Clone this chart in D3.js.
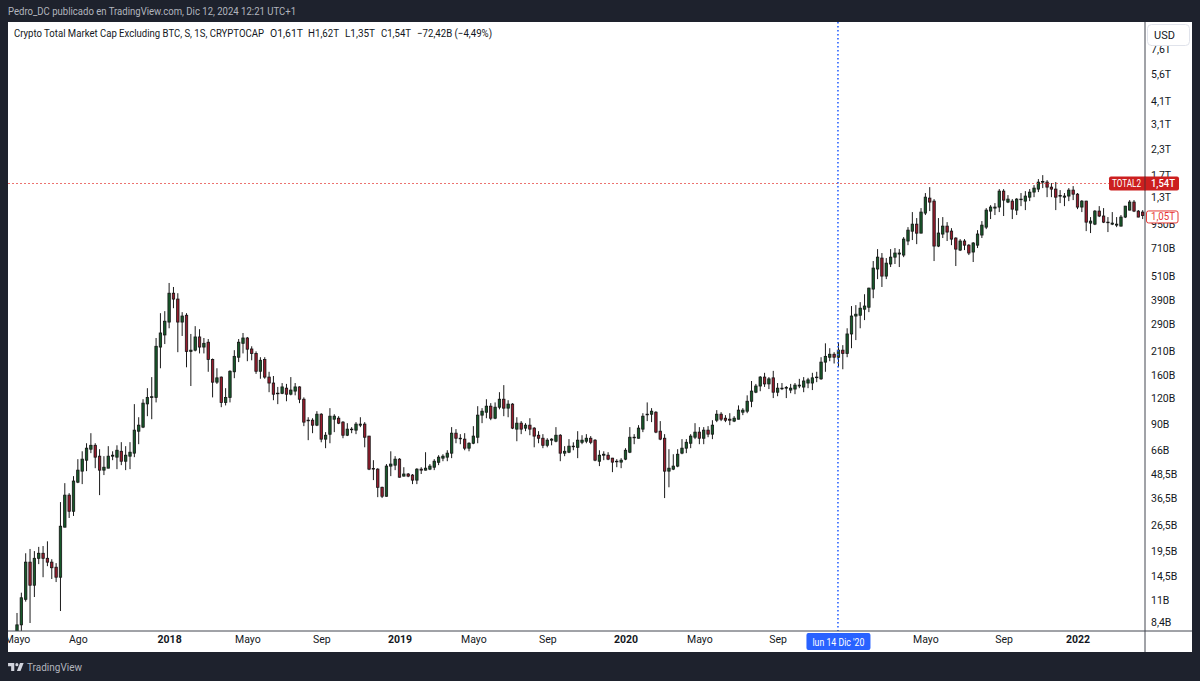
<!DOCTYPE html>
<html lang="es">
<head>
<meta charset="utf-8">
<title>Crypto Total Market Cap Excluding BTC</title>
<script src="https://cdn.jsdelivr.net/npm/d3@7"></script>
<style>
  html, body { margin: 0; padding: 0; background: #1e222d; }
  svg { display: block; }
  text { font-family: Roboto, "Noto Sans", sans-serif; }
</style>
</head>
<body>
<svg id="chart" width="1200" height="681"></svg>
<script>
// Weekly candles of TOTAL2, in billions of USD, one entry per week from the first date.
const firstWeek = "2017-05-01";

const opens = [
  7.46,8.12,11.0,17.1,13.0,17.9,19.0,17.9,17.1,16.1,
  14.3,25.9,37.9,31.3,44.2,50.4,57.4,65.4,68.5,60.2,
  51.0,52.2,60.2,59.5,63.8,56.7,60.2,62.4,81.0,85.0,
  112,121,121,220,254,296,417,389,296,321,
  209,212,248,220,233,190,145,154,114,121,
  164,195,230,245,215,204,165,190,154,143.5,
  127,127,135,125.7,130.4,137,118.4,91.7,92.3,87,
  99.1,73.7,78.1,93.4,94.5,90.2,77.2,82.5,82,87,
  88.1,76.4,52,51.6,41.6,37.4,53.5,54.1,58.1,47.5,
  48.7,48.1,45.3,51.6,51,51.6,52.8,56,58.8,59.5,
  62.4,79.1,74.5,73.7,66.2,70.2,75.4,98,101.5,109,
  94.5,107.7,118.4,106.5,111.7,83,89.1,84,87,84,
  77.2,74.5,68.5,72.8,71.9,77.2,62.4,63.1,67.4,66.9,
  71,71.9,74.5,72.8,56.7,60.9,60.9,58.8,56.7,56.1,
  58.1,63.1,75,74.5,83,98.6,99.1,101.5,81,74.5,
  50.4,51.6,53.5,62.4,66.2,70.2,75.4,80.1,74.5,82,
  78.2,92.3,99.1,94.5,93.4,91.3,93.4,101.5,102.7,115.6,
  128.7,138.5,154,142,152.6,128.7,134.5,135,132,133.6,
  138.5,136.8,143.5,143.5,153,150.8,184,195,202,195,
  212,204,257,318,321,345,353,438,556,633,
  511,590,640,664,656,775,871,947,851,1080,
  1290,1245,730,842,925,872,803,696,775,738,
  680,738,832,914,1106,1146,1160,1402,1231,1245,
  1119,1268,1245,1305,1386,1436,1561,1561,1470,1436,
  1322,1305,1322,1419,1352,1160,1245,959,947,1106,
  1043,970,947,936,925,1030,1119,1231,1106,1093
];

const highs = [
  9.35,11.9,19.0,20.0,19.5,20.5,20.7,21.9,17.7,16.9,
  34.9,43.7,38.8,47.5,58.1,63.8,70.2,79.1,70.2,65.4,
  60.2,67.8,63.8,68.5,71.1,67.8,71.1,111.7,95.6,118.4,
  135,154,245,329,337,471,449,417,333,329,
  257,282,272,245,242,192,171,155,135,167,
  212,242,260,248,222,209,195,195,164,156,
  137,143.5,142,154,143.5,138,121,95.6,94.5,102.7,
  100.3,80.1,106.5,99.1,96.8,91.3,89.1,85,90.2,95.6,
  90.2,76.6,57.4,52.2,41.9,54.8,63.8,60.2,58.8,52.8,
  49.3,48.7,52.2,52.8,63.1,54.8,58.1,60.9,61.6,64.6,
  85,83,78.2,79.1,71,86,109,106.5,118.4,113,
  114,128.7,140,117,113,95.6,91.3,89.1,94.5,85,
  81,78.2,74.5,74.5,85,78.2,67.8,73.7,71,81,
  77.2,78.2,76.4,73.7,64.6,63.8,63.1,59,58.1,58.8,
  66.2,85,78.2,87,100.3,114,106.5,102.7,91.3,78.2,
  65.4,61.6,65.4,73.7,73.7,78.2,89.1,85,85,86,
  92.3,104,101.5,98,100.3,96.8,110,106.5,124,147,
  142,156,162,154,165.8,143.5,143.5,138.5,142,143.5,
  150.8,154,152.6,162,164,195,230,217,207,233,
  225,275,358,362,375,412,445,611,704,672,
  633,704,713,704,812,914,1093,1018,1146,1370,
  1470,1275,1018,1030,970,903,810,793,793,747,
  766,882,982,1146,1187,1216,1436,1436,1337,1275,
  1290,1370,1402,1436,1505,1617,1695,1598,1542,1561,
  1419,1370,1453,1488,1370,1260,1250,1030,1119,1173,
  1146,1030,1093,1030,1055,1176,1260,1260,1119,1119
];

const lows = [
  7.28,7.55,10.7,8.3,11.3,16.7,14.3,16.3,14.0,13.5,
  9.57,25.9,28.9,29.6,43.7,43.2,50.4,62.4,52.2,37.9,
  48.1,52.2,57.4,51.6,54.1,51,51.6,59.5,69.4,84,
  96.8,93.4,114,171,228,275,349,207,251,173,
  138.5,209,204,204,164,121,142,107.7,110,114,
  152,184,204,186,188,160,151,151,128.7,117,
  111.7,125.7,115.6,124,124,113,86,72.8,79.1,86,
  71,66.2,70.2,80.1,88.1,74.5,76.4,79.1,78.2,85,
  66.9,51,45.3,37,36.6,37.2,47.5,51,46.7,47.3,
  46.9,43.2,43.2,48.7,50.8,51,51,54.1,56.7,56.7,
  58.8,70.2,69.4,64.6,63.8,69.4,70.2,89.1,94.5,92.3,
  93.4,105,96.8,95.6,83,71.9,78.2,81,77.2,66.9,
  70.2,66.2,66.9,68.5,71,56.7,60.2,62.4,64.6,58.8,
  69.4,70.2,69.4,56.7,53.5,57.4,57.4,49.8,52.8,52.2,
  57.4,62.4,69.4,74.3,80.1,91.3,90.2,79.1,72.8,36.6,
  41.6,51,52.8,61.6,62.4,66.2,73.7,69.4,69.4,75.4,
  73.7,90.2,91.3,90.2,87,90.2,93.2,98,100.3,107.7,
  127.2,130.2,137,133.6,120,122.7,132,120,127.2,125.7,
  135,128.7,135,132,145,149,164,186,181,173,
  169,195,217,239,275,303,333,393,493,449,
  493,569,590,569,640,738,784,747,851,1055,
  1106,611,721,803,775,738,576,688,696,656,
  604,713,803,893,1006,1055,1093,1043,1216,1006,
  1055,1173,1119,1245,1305,1386,1453,1305,1305,1119,
  1216,1173,1245,1260,1132,1093,872,852,936,1030,
  959,862,936,914,923,1018,1115,1093,1028,1006
];

const closes = [
  8.12,11.2,17.1,13.0,17.9,19.0,17.9,17.1,16.0,14.3,
  26.2,37.9,31.3,44.8,51.0,58.1,66.2,68.5,59.5,51.0,
  52.8,60.2,60.9,64.6,56.7,60.9,63.1,82.0,87.0,113,
  121,122,222,260,299,417,389,296,318,209,
  212,248,220,230,190,145,152.6,114,121,165,
  197,233,245,214.5,204,165,188,154,143.5,125.7,
  127.2,137,125.7,132,137,118.4,90.2,92.3,87,99.1,
  73.7,77.2,96.8,96.8,89.1,77.2,83,83,88.1,88.1,
  75.4,51.6,51.7,41.6,37.4,53.5,54.8,58.1,46.9,48.7,
  47.5,45.3,51.6,51,52.2,53.5,56.7,59.5,60.2,62.4,
  79.1,74.5,74,66.2,70.2,76.4,98,102.7,109,94.5,
  107.7,118.4,106.5,111.7,84,89.1,83,87,83,76.4,
  74.5,68.5,72.8,73.7,77.2,62.4,63.8,67.8,67.8,72.8,
  72.8,74.5,71,57.4,60.9,61.6,58.1,56.1,56.4,57.4,
  64.6,75.4,75.4,84,96.8,99.1,102.7,80.1,73.7,50.4,
  52.2,53.5,61.6,66.2,71,76.4,80.1,74.5,82,78.2,
  87,99.1,93.4,92.3,92.3,94.5,104,104,115.6,130.4,
  138.5,154,142,150.8,128.7,135,135,136,135,140,
  140,147,149,152.6,154,184,197,202,195,212,
  204,257,318,325,349,358,443,562,640,511,
  596,640,672,672,793,882,947,851,1093,1305,
  1231,730,852,925,862,793,704,775,738,672,
  757,842,936,1119,1160,1160,1402,1260,1275,1132,
  1275,1275,1322,1385,1453,1560,1570,1470,1436,1305,
  1330,1322,1419,1352,1160,1245,970,982,1106,1043,
  970,965,959,947,1030,1173,1231,1106,1030,1050
];

// Price axis: positions in billions and the labels the axis prints for them.
const priceTicks = [8.4,10.85,14.5,19.5,26.5,36.5,48.5,65,88.5,120,157,210,290,382,510,710,950,1300,1700,2300,3100,4100,5600,7600];
const priceLabels = ["8,4B","11B","14,5B","19,5B","26,5B","36,5B","48,5B","66B","90B","120B","160B","210B","290B","390B","510B","710B","950B","1,3T","1,7T","2,3T","3,1T","4,1T","5,6T","7,6T"];

// Time axis: week starts and their labels; year starts are drawn in bold.
const timeTicks = ["2017-05-01","2017-08-07","2018-01-01","2018-05-07","2018-09-03","2019-01-07","2019-05-06","2019-09-02","2020-01-06","2020-05-04","2020-09-07","2021-05-03","2021-09-06","2022-01-03"];
const timeLabels = ["Mayo","Ago","2018","Mayo","Sep","2019","Mayo","Sep","2020","Mayo","Sep","Mayo","Sep","2022"];

const symbolPrice = 1540;   // TOTAL2 last value
const markerPrice = 1050;   // close of the last drawn week
const cursorDay = "2020-12-14";

const headerText = "Pedro_DC publicado en TradingView.com, Dic 12, 2024 12:21 UTC+1";
const legendText = "Crypto Total Market Cap Excluding BTC, S, 1S, CRYPTOCAP";
const legendOhlc = ["O1,61T", "H1,62T", "L1,35T", "C1,54T", "\u221272,42B (\u22124,49%)"];
const legendOhlcX = [270, 308, 345, 381, 417];
const legendOhlcWidth = [33, 31, 30, 30, 75];

const parseDay = d3.utcParse("%Y-%m-%d");
const day0 = parseDay(firstWeek);
const candles = opens.map((o, i) => ({
  date: d3.utcDay.offset(day0, i * 7), o, h: highs[i], l: lows[i], c: closes[i]
}));

const frame = { left: 8, right: 1192, top: 22, bottom: 652, paneRight: 1145, paneBottom: 631 };

const x = d3.scaleUtc()
  .domain([day0, candles[candles.length - 1].date])
  .range([17, 1142.7]);
const y = d3.scaleLog()
  .domain([8.4, 7600])
  .range([622, 48.8]);

// Text squeezed to a set width, so it keeps its place next to its neighbours.
function fitted(sel, width) {
  return sel.attr("textLength", width).attr("lengthAdjust", "spacingAndGlyphs");
}

const svg = d3.select("#chart");
const defs = svg.append("defs");
defs.append("clipPath").attr("id", "pane").append("rect")
  .attr("x", frame.left).attr("y", frame.top)
  .attr("width", frame.paneRight - frame.left).attr("height", frame.paneBottom - frame.top);
defs.append("clipPath").attr("id", "timeStrip").append("rect")
  .attr("x", frame.left).attr("y", frame.paneBottom)
  .attr("width", frame.paneRight - frame.left).attr("height", frame.bottom - frame.paneBottom);

svg.append("rect").attr("width", 1200).attr("height", 681).attr("fill", "#1e222d");
svg.append("rect")
  .attr("x", frame.left).attr("y", frame.top)
  .attr("width", frame.right - frame.left).attr("height", frame.bottom - frame.top)
  .attr("fill", "#ffffff");

// Candles
const pane = svg.append("g").attr("clip-path", "url(#pane)");
const marks = pane.selectAll("g.candle").data(candles).join("g").attr("class", "candle");
marks.append("line")
  .attr("x1", d => x(d.date)).attr("x2", d => x(d.date))
  .attr("y1", d => y(d.h)).attr("y2", d => y(d.l))
  .attr("stroke", "#1a1a1a").attr("stroke-width", 1);
marks.append("rect")
  .attr("x", d => x(d.date) - 1.2)
  .attr("width", 2.4)
  .attr("y", d => y(Math.max(d.o, d.c)))
  .attr("height", d => Math.max(0.6, Math.abs(y(d.o) - y(d.c))))
  .attr("fill", d => d.c >= d.o ? "#17592a" : "#961c2d")
  .attr("stroke", "#141414").attr("stroke-width", 0.8);

// Cursor and last-value guide lines
const guideY = Math.round(y(symbolPrice)) + 0.5;
pane.append("line")
  .attr("x1", frame.left).attr("x2", 1110)
  .attr("y1", guideY).attr("y2", guideY)
  .attr("stroke", "#e53935").attr("stroke-width", 1).attr("stroke-dasharray", "2 2").attr("opacity", 0.7);
const cursorX = x(parseDay(cursorDay));
pane.append("line")
  .attr("x1", cursorX - 0.5).attr("x2", cursorX - 0.5)
  .attr("y1", frame.top).attr("y2", frame.paneBottom)
  .attr("stroke", "#2962ff").attr("stroke-width", 1.6).attr("stroke-dasharray", "1.6 2.4");

// Price axis
const yAxis = svg.append("g")
  .attr("transform", `translate(${frame.paneRight},0)`)
  .call(d3.axisRight(y).tickValues(priceTicks).tickSize(0).tickPadding(6)
    .tickFormat((d, i) => priceLabels[i]));
yAxis.select(".domain").remove();
yAxis.selectAll("text").attr("font-size", 10.5).attr("fill", "#131722")
  .style("font-family", "Roboto, sans-serif");

// Time axis
const xAxis = svg.append("g")
  .attr("clip-path", "url(#timeStrip)")
  .append("g")
  .attr("transform", `translate(0,${frame.paneBottom})`)
  .call(d3.axisBottom(x).tickValues(timeTicks.map(parseDay)).tickSize(0).tickPadding(5)
    .tickFormat((d, i) => timeLabels[i]));
xAxis.select(".domain").remove();
xAxis.selectAll("text")
  .attr("font-size", 10.5).attr("fill", "#131722")
  .style("font-family", "Roboto, sans-serif")
  .attr("font-weight", (d, i) => /^\d{4}$/.test(timeLabels[i]) ? 700 : 400);

// Pane separators
svg.append("line").attr("x1", frame.paneRight).attr("x2", frame.paneRight)
  .attr("y1", frame.top).attr("y2", frame.bottom).attr("stroke", "#434651").attr("stroke-width", 1);
svg.append("line").attr("x1", frame.left).attr("x2", frame.right)
  .attr("y1", frame.paneBottom).attr("y2", frame.paneBottom).attr("stroke", "#434651").attr("stroke-width", 1);

// Date tag under the cursor
svg.append("rect").attr("x", cursorX - 32).attr("y", 633).attr("width", 64).attr("height", 17).attr("rx", 2)
  .attr("fill", "#2962ff");
fitted(svg.append("text").attr("x", cursorX - 26).attr("y", 645.5)
  .attr("font-size", 10.5).attr("fill", "#ffffff").text("lun 14 Dic '20"), 52);

// Currency button
svg.append("rect").attr("x", 1147.5).attr("y", 24.5).attr("width", 42).attr("height", 21).attr("rx", 4)
  .attr("fill", "#ffffff").attr("stroke", "#e0e3eb");
svg.append("text").attr("x", 1164.5).attr("y", 39).attr("text-anchor", "middle")
  .attr("font-size", 11).attr("fill", "#131722").text("USD");

// Symbol and last-value tags
const tagY = guideY;
svg.append("rect").attr("x", 1109).attr("y", tagY - 7).attr("width", 70).attr("height", 14).attr("rx", 2)
  .attr("fill", "#cc1f1f");
svg.append("line").attr("x1", frame.paneRight).attr("x2", frame.paneRight)
  .attr("y1", tagY - 7).attr("y2", tagY + 7).attr("stroke", "#5a2a2e");
fitted(svg.append("text").attr("x", 1112).attr("y", tagY + 3.8)
  .attr("font-size", 10).attr("fill", "#ffffff").text("TOTAL2"), 29);
fitted(svg.append("text").attr("x", 1151).attr("y", tagY + 3.8)
  .attr("font-size", 10.5).attr("font-weight", 500).attr("fill", "#ffffff").text("1,54T"), 24);

const markY = y(markerPrice);
svg.append("rect").attr("x", 1146.5).attr("y", markY - 4.5).attr("width", 31.5).attr("height", 12).attr("rx", 2)
  .attr("fill", "#ffffff").attr("stroke", "#e53935");
fitted(svg.append("text").attr("x", 1151).attr("y", markY + 5)
  .attr("font-size", 10.5).attr("fill", "#e53935").text("1,05T"), 24);

// Header and legend
fitted(svg.append("text").attr("x", 8).attr("y", 15).attr("font-size", 11).attr("fill", "#b2b5be").text(headerText), 288);
fitted(svg.append("text").attr("x", 14).attr("y", 37).attr("font-size", 11).attr("fill", "#131722").text(legendText), 250);
legendOhlc.forEach((t, i) => {
  fitted(svg.append("text").attr("x", legendOhlcX[i]).attr("y", 37)
    .attr("font-size", 11).attr("fill", "#131722").text(t), legendOhlcWidth[i]);
});

// Brand mark and name in the footer
svg.append("path")
  .attr("transform", "translate(7,660) scale(0.52)")
  .attr("d", "M14 6H2v6h6v9h6V6Zm12 15h-7l6-15h7l-6 15Zm-7-9a3 3 0 1 0 0-6 3 3 0 0 0 0 6Z")
  .attr("fill", "#d1d4dc");
fitted(svg.append("text").attr("x", 27).attr("y", 671).attr("font-size", 11.5).attr("fill", "#b2b5be").text("TradingView"), 55);
</script>
</body>
</html>
